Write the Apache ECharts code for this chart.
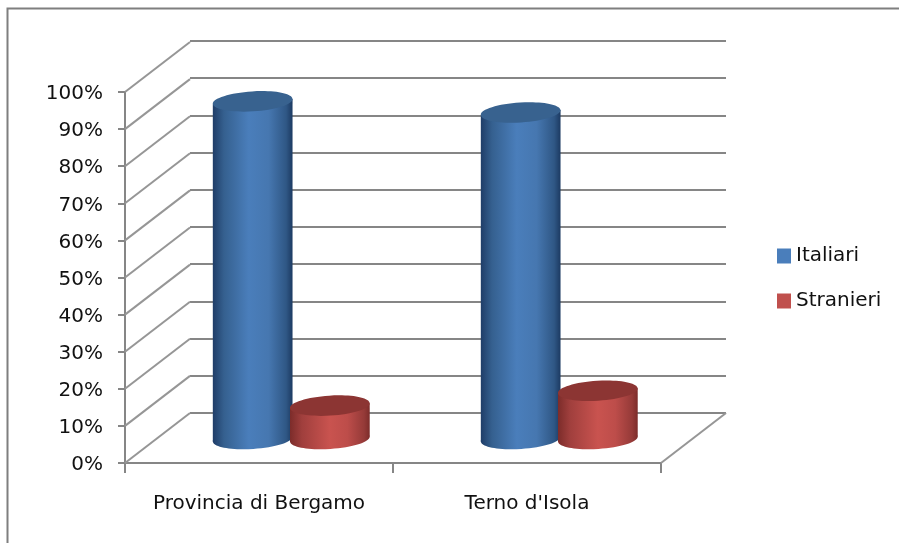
<!DOCTYPE html>
<html><head><meta charset="utf-8">
<style>html,body{margin:0;padding:0;background:#fff}#c{width:899px;height:543px;filter:blur(.45px)}</style>
<script src="https://cdn.jsdelivr.net/npm/echarts@6/dist/echarts.min.js"></script>
</head><body><div id="c"></div>
<script>
const categories = ['Provincia di Bergamo', "Terno d'Isola"];
const italiani = [91, 88];
const stranieri = [9, 13];
const seriesNames = ['Italiari', 'Stranieri'];
const ticks = [0, 10, 20, 30, 40, 50, 60, 70, 80, 90, 100];

const W = 899, H = 543;
const front = {left: 125, top: 92, width: 536, height: 371};
const back = {left: 190, top: 41, width: 536, height: 372};
const mid = {left: 157, top: 68, width: 536, height: 371};
const depthX = back.left - front.left, depthY = (front.top + front.height) - (back.top + back.height);
const GRID = '#868686', TXT = '#111';
const FONT = '"DejaVu Sans"';

function gridRect(g) { return {left: g.left, top: g.top, width: g.width, height: g.height}; }

function cylinder(offsetRatio, grad, capColor) {
  return function (params, api) {
    const i = api.value(0), v = api.value(1);
    const base = api.coord([i, 0]), top = api.coord([i, v]);
    const band = api.size([1, 0])[0];
    const cx = base[0] + offsetRatio * band;
    const rx = 0.149 * band, ry = 10, a = 3.5 * Math.PI / 180;
    const dx = rx * Math.cos(a), dy = rx * Math.sin(a);
    const fill = new echarts.graphic.LinearGradient(0, 0, 1, 0, grad);
    return {type: 'group', children: [
      {type: 'ellipse', shape: {cx: cx, cy: base[1], rx: rx, ry: ry}, rotation: a, originX: cx, originY: base[1], style: {fill: fill}},
      {type: 'polygon', shape: {points: [[cx - dx, top[1] + dy], [cx + dx, top[1] - dy], [cx + dx, base[1] - dy], [cx - dx, base[1] + dy]]}, style: {fill: fill}},
      {type: 'ellipse', shape: {cx: cx, cy: top[1], rx: rx, ry: ry}, rotation: a, originX: cx, originY: top[1], style: {fill: capColor}}
    ]};
  };
}

const blueGrad = [{offset: 0, color: '#1f3d68'}, {offset: .14, color: '#35608f'}, {offset: .45, color: '#4a7ebb'}, {offset: .7, color: '#4677b0'}, {offset: .92, color: '#2f5785'}, {offset: 1, color: '#1c3a62'}];
const redGrad = [{offset: 0, color: '#7c2c2a'}, {offset: .15, color: '#a03f3d'}, {offset: .5, color: '#c9534f'}, {offset: .72, color: '#bd4d4a'}, {offset: .93, color: '#953a38'}, {offset: 1, color: '#7c2c2a'}];

const chart = echarts.init(document.getElementById('c'), null, {renderer: 'canvas', width: W, height: H});
chart.setOption({
  animation: false,
  backgroundColor: '#fff',
  graphic: [{type: 'polyline', z: 0, shape: {points: [[7.5, H], [7.5, 8.5], [W, 8.5]]}, style: {fill: 'none', stroke: '#7f7f7f', lineWidth: 2}}],
  legend: {
    orient: 'vertical', left: 772, top: 241, itemWidth: 14, itemHeight: 15, itemGap: 25,
    data: [{name: seriesNames[0], itemStyle: {color: '#4a7ebb'}}, {name: seriesNames[1], itemStyle: {color: '#c0504d'}}],
    icon: 'rect',
    textStyle: {fontFamily: FONT, fontSize: 20, color: TXT}
  },
  grid: [gridRect(front), gridRect(back), gridRect(mid)],
  xAxis: [
    {gridIndex: 0, type: 'category', data: categories,
      axisLine: {lineStyle: {color: GRID, width: 2}}, axisTick: {show: true, interval: 0, length: 10, lineStyle: {color: GRID, width: 2}},
      axisLabel: {interval: 0, margin: 31, fontFamily: FONT, fontSize: 20, color: TXT}},
    {gridIndex: 1, type: 'category', data: categories, show: false},
    {gridIndex: 2, type: 'category', data: categories, show: false}
  ],
  yAxis: [
    {gridIndex: 0, type: 'value', min: 0, max: 100, interval: 10,
      axisLine: {show: true, lineStyle: {color: GRID, width: 2}}, axisTick: {show: true, length: 7, lineStyle: {color: GRID, width: 2}},
      splitLine: {show: false},
      axisLabel: {margin: 22, formatter: '{v|{value}%}',
        rich: {v: {padding: [4, 0, 0, 0], fontFamily: FONT, fontSize: 20, color: TXT}}}},
    {gridIndex: 1, type: 'value', min: 0, max: 100, interval: 10,
      axisLine: {show: false}, axisTick: {show: false}, axisLabel: {show: false},
      splitLine: {show: true, lineStyle: {color: GRID, width: 2}}},
    {gridIndex: 2, type: 'value', min: 0, max: 100, show: false, splitLine: {show: false}}
  ],
  series: [
    {type: 'custom', name: 'depth', xAxisIndex: 0, yAxisIndex: 0, silent: true, z: 1, clip: false,
      data: ticks.map(t => [t]), encode: {y: 0},
      renderItem: function (params, api) {
        const y = api.coord([0, api.value(0)])[1];
        const x = params.coordSys.x;
        const line = (x0) => ({type: 'line', shape: {x1: x0, y1: y, x2: x0 + depthX, y2: y - depthY},
          style: {stroke: '#969696', lineWidth: 2}});
        const kids = [line(x)];
        if (api.value(0) === 0) kids.push(line(x + params.coordSys.width));
        return {type: 'group', children: kids};
      }},
    {type: 'custom', name: seriesNames[0], xAxisIndex: 2, yAxisIndex: 2, z: 3, clip: false,
      data: italiani.map((v, i) => [i, v]), encode: {x: 0, y: 1},
      renderItem: cylinder(-0.143, blueGrad, '#38628f')},
    {type: 'custom', name: seriesNames[1], xAxisIndex: 2, yAxisIndex: 2, z: 4, clip: false,
      data: stranieri.map((v, i) => [i, v]), encode: {x: 0, y: 1},
      renderItem: cylinder(0.145, redGrad, '#8c3533')}
  ]
});
</script></body></html>
